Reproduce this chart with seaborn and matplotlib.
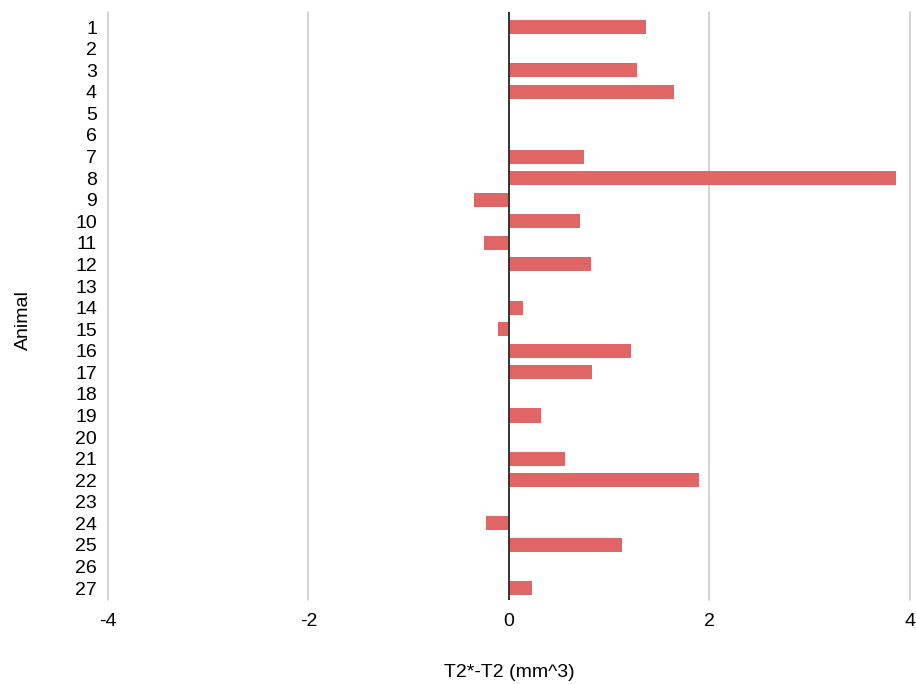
import matplotlib

matplotlib.use("Agg")
import matplotlib.pyplot as plt
import numpy as np
import pandas as pd
import seaborn as sns

ANIMALS = [str(i) for i in range(1, 28)]
DIFF_MM3 = [
    1.37, None, 1.28, 1.65, None, None, 0.75, 3.86, -0.35, 0.71,
    -0.25, 0.82, None, 0.14, -0.11, 1.22, 0.83, None, 0.32, None,
    0.56, 1.90, None, -0.23, 1.13, None, 0.23,
]
X_TICKS = [-4, -2, 0, 2, 4]

BAR_COLOR = "#e06666"


def main() -> None:
    df = pd.DataFrame({"animal": ANIMALS, "diff": DIFF_MM3})
    df["diff"] = pd.to_numeric(df["diff"], errors="coerce")

    sns.set_theme(style="white")
    plt.rcParams["font.family"] = ["Liberation Sans", "DejaVu Sans"]

    fig = plt.figure(figsize=(9.16, 6.84), dpi=100)
    ax = fig.add_axes([0.1179, 0.1228, 0.8755, 0.8597])

    sns.barplot(
        data=df.dropna(),
        x="diff",
        y="animal",
        order=ANIMALS,
        orient="h",
        color=BAR_COLOR,
        saturation=1,
        width=0.65,
        linewidth=0,
        ax=ax,
    )

    ax.set_xlim(-4.0, 4.0)
    ax.set_ylim(26.55, -0.7)
    ax.set_xticks(X_TICKS)
    ax.set_xticklabels([str(t) for t in X_TICKS])
    for t in X_TICKS:
        if t == 0:
            ax.axvline(0, color="#333333", linewidth=1.4, zorder=3)
        else:
            ax.axvline(t, color="#cccccc", linewidth=1.2, zorder=0, clip_on=False)

    for spine in ax.spines.values():
        spine.set_visible(False)
    ax.tick_params(axis="both", length=0, labelsize=14, colors="#000000")
    ax.tick_params(axis="y", pad=8)
    ax.tick_params(axis="x", pad=9)

    ax.set_xlabel("T2*-T2 (mm^3)", fontsize=14, color="#000000", labelpad=25)
    ax.set_ylabel("Animal", fontsize=14, color="#000000")
    ax.yaxis.set_label_coords(-0.0948, 0.476)

    fig.savefig("out.png", dpi=100)
    plt.close(fig)


if __name__ == "__main__":
    main()
